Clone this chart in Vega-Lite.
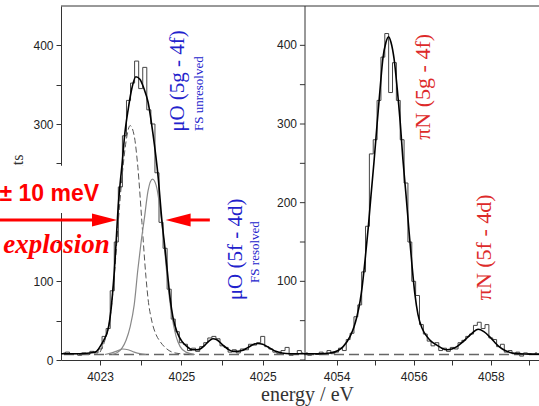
{
  "$schema": "https://vega.github.io/schema/vega-lite/v6.json",
  "width": 478,
  "height": 354,
  "autosize": {"type": "none"},
  "padding": {"left": 61, "top": 6, "right": 0, "bottom": 46},
  "background": "white",
  "config": {
    "view": {"stroke": null},
    "axis": {"domainColor": "#333", "tickColor": "#333", "labelFont": "Liberation Sans", "labelFontSize": 12, "labelColor": "#222", "grid": false}
  },
  "datasets": {
    "one": [{"k": 1}],
    "hist": [
      {"p":"L","x":4022.1,"y":9},{"p":"L","x":4022.2,"y":10},{"p":"L","x":4022.3,"y":7},{"p":"L","x":4022.4,"y":8},{"p":"L","x":4022.5,"y":6},{"p":"L","x":4022.6,"y":9},{"p":"L","x":4022.7,"y":7},{"p":"L","x":4022.8,"y":11},{"p":"L","x":4022.9,"y":9},{"p":"L","x":4023.0,"y":14},
      {"p":"L","x":4023.1,"y":30},{"p":"L","x":4023.2,"y":40},{"p":"L","x":4023.3,"y":88},{"p":"L","x":4023.4,"y":150},{"p":"L","x":4023.5,"y":220},{"p":"L","x":4023.6,"y":285},{"p":"L","x":4023.7,"y":330},{"p":"L","x":4023.8,"y":352},{"p":"L","x":4023.9,"y":380},{"p":"L","x":4024.0,"y":345},
      {"p":"L","x":4024.1,"y":372},{"p":"L","x":4024.2,"y":318},{"p":"L","x":4024.3,"y":300},{"p":"L","x":4024.4,"y":238},{"p":"L","x":4024.5,"y":175},{"p":"L","x":4024.6,"y":142},{"p":"L","x":4024.7,"y":90},{"p":"L","x":4024.8,"y":52},{"p":"L","x":4024.9,"y":36},{"p":"L","x":4025.0,"y":22},
      {"p":"L","x":4025.1,"y":20},{"p":"L","x":4025.2,"y":12},{"p":"L","x":4025.3,"y":15},{"p":"L","x":4025.4,"y":11},{"p":"L","x":4025.5,"y":17},{"p":"L","x":4025.6,"y":22},{"p":"L","x":4025.7,"y":28},{"p":"L","x":4025.8,"y":30},{"p":"L","x":4025.9,"y":27},{"p":"L","x":4026.0,"y":18},
      {"p":"L","x":4026.1,"y":16},{"p":"L","x":4026.2,"y":10},{"p":"L","x":4026.3,"y":13},{"p":"L","x":4026.4,"y":9},{"p":"L","x":4026.5,"y":14},{"p":"L","x":4026.6,"y":13},{"p":"L","x":4026.7,"y":20},{"p":"L","x":4026.8,"y":19},{"p":"L","x":4026.9,"y":22},{"p":"L","x":4027.0,"y":30},
      {"p":"L","x":4027.1,"y":17},{"p":"L","x":4027.2,"y":14},{"p":"L","x":4027.3,"y":10},{"p":"L","x":4027.4,"y":8},{"p":"L","x":4027.5,"y":12},{"p":"L","x":4027.6,"y":16},{"p":"L","x":4027.7,"y":6},{"p":"L","x":4027.8,"y":8},{"p":"L","x":4027.9,"y":12},{"p":"L","x":4028.0,"y":9},
      {"p":"R","x":4053.2,"y":9},{"p":"R","x":4053.3,"y":6},{"p":"R","x":4053.4,"y":8},{"p":"R","x":4053.5,"y":7},{"p":"R","x":4053.6,"y":10},{"p":"R","x":4053.7,"y":8},{"p":"R","x":4053.8,"y":12},{"p":"R","x":4053.9,"y":8},{"p":"R","x":4054.0,"y":10},{"p":"R","x":4054.1,"y":15},
      {"p":"R","x":4054.2,"y":12},{"p":"R","x":4054.3,"y":26},{"p":"R","x":4054.4,"y":34},{"p":"R","x":4054.5,"y":55},{"p":"R","x":4054.6,"y":70},{"p":"R","x":4054.7,"y":112},{"p":"R","x":4054.8,"y":170},{"p":"R","x":4054.9,"y":262},{"p":"R","x":4055.0,"y":280},{"p":"R","x":4055.1,"y":330},
      {"p":"R","x":4055.2,"y":385},{"p":"R","x":4055.3,"y":415},{"p":"R","x":4055.4,"y":340},{"p":"R","x":4055.5,"y":378},{"p":"R","x":4055.6,"y":330},{"p":"R","x":4055.7,"y":280},{"p":"R","x":4055.8,"y":225},{"p":"R","x":4055.9,"y":150},{"p":"R","x":4056.0,"y":100},{"p":"R","x":4056.1,"y":82},
      {"p":"R","x":4056.2,"y":45},{"p":"R","x":4056.3,"y":33},{"p":"R","x":4056.4,"y":24},{"p":"R","x":4056.5,"y":18},{"p":"R","x":4056.6,"y":22},{"p":"R","x":4056.7,"y":12},{"p":"R","x":4056.8,"y":15},{"p":"R","x":4056.9,"y":11},{"p":"R","x":4057.0,"y":16},{"p":"R","x":4057.1,"y":14},
      {"p":"R","x":4057.2,"y":22},{"p":"R","x":4057.3,"y":25},{"p":"R","x":4057.4,"y":30},{"p":"R","x":4057.5,"y":33},{"p":"R","x":4057.6,"y":44},{"p":"R","x":4057.7,"y":48},{"p":"R","x":4057.8,"y":40},{"p":"R","x":4057.9,"y":45},{"p":"R","x":4058.0,"y":28},{"p":"R","x":4058.1,"y":26},
      {"p":"R","x":4058.2,"y":17},{"p":"R","x":4058.3,"y":20},{"p":"R","x":4058.4,"y":10},{"p":"R","x":4058.5,"y":12},{"p":"R","x":4058.6,"y":8},{"p":"R","x":4058.7,"y":10},{"p":"R","x":4058.8,"y":5},{"p":"R","x":4058.9,"y":9},{"p":"R","x":4059.0,"y":8},{"p":"R","x":4059.1,"y":7},{"p":"R","x":4059.2,"y":9}
    ],
    "fit": [
      {"p":"L","x":4022.04,"y":8},{"p":"L","x":4022.5,"y":8},{"p":"L","x":4022.75,"y":9},{"p":"L","x":4022.88,"y":10},{"p":"L","x":4022.95,"y":13},{"p":"L","x":4023.0,"y":17},{"p":"L","x":4023.1,"y":26},{"p":"L","x":4023.17,"y":34},{"p":"L","x":4023.22,"y":45},{"p":"L","x":4023.27,"y":64},
      {"p":"L","x":4023.31,"y":86},{"p":"L","x":4023.35,"y":112},{"p":"L","x":4023.39,"y":145},{"p":"L","x":4023.44,"y":190},{"p":"L","x":4023.49,"y":222},{"p":"L","x":4023.54,"y":248},{"p":"L","x":4023.61,"y":288},{"p":"L","x":4023.69,"y":318},{"p":"L","x":4023.79,"y":347},{"p":"L","x":4023.88,"y":360},
      {"p":"L","x":4023.98,"y":357},{"p":"L","x":4024.08,"y":345},{"p":"L","x":4024.18,"y":328},{"p":"L","x":4024.3,"y":288},{"p":"L","x":4024.43,"y":232},{"p":"L","x":4024.52,"y":178},{"p":"L","x":4024.6,"y":140},{"p":"L","x":4024.66,"y":110},{"p":"L","x":4024.72,"y":80},{"p":"L","x":4024.79,"y":55},
      {"p":"L","x":4024.89,"y":36},{"p":"L","x":4025.01,"y":24},{"p":"L","x":4025.14,"y":17},{"p":"L","x":4025.26,"y":13},{"p":"L","x":4025.38,"y":13},{"p":"L","x":4025.46,"y":14},{"p":"L","x":4025.58,"y":19},{"p":"L","x":4025.7,"y":25},{"p":"L","x":4025.78,"y":27},{"p":"L","x":4025.86,"y":26},
      {"p":"L","x":4026.0,"y":20},{"p":"L","x":4026.14,"y":14},{"p":"L","x":4026.27,"y":11},{"p":"L","x":4026.39,"y":11},{"p":"L","x":4026.49,"y":12},{"p":"L","x":4026.64,"y":16},{"p":"L","x":4026.78,"y":20},{"p":"L","x":4026.88,"y":21},{"p":"L","x":4027.0,"y":20},{"p":"L","x":4027.18,"y":15},
      {"p":"L","x":4027.32,"y":11},{"p":"L","x":4027.47,"y":9},{"p":"L","x":4027.67,"y":8},{"p":"L","x":4028.04,"y":8},
      {"p":"R","x":4053.18,"y":8},{"p":"R","x":4053.57,"y":8},{"p":"R","x":4053.83,"y":9},{"p":"R","x":4054.04,"y":12},{"p":"R","x":4054.17,"y":17},{"p":"R","x":4054.35,"y":30},{"p":"R","x":4054.45,"y":42},{"p":"R","x":4054.53,"y":56},{"p":"R","x":4054.61,"y":75},{"p":"R","x":4054.66,"y":92},
      {"p":"R","x":4054.74,"y":128},{"p":"R","x":4054.82,"y":168},{"p":"R","x":4054.89,"y":208},{"p":"R","x":4054.97,"y":252},{"p":"R","x":4055.05,"y":300},{"p":"R","x":4055.13,"y":346},{"p":"R","x":4055.2,"y":383},{"p":"R","x":4055.28,"y":404},{"p":"R","x":4055.35,"y":411},{"p":"R","x":4055.41,"y":404},
      {"p":"R","x":4055.49,"y":383},{"p":"R","x":4055.57,"y":346},{"p":"R","x":4055.65,"y":302},{"p":"R","x":4055.72,"y":255},{"p":"R","x":4055.8,"y":210},{"p":"R","x":4055.88,"y":163},{"p":"R","x":4055.96,"y":118},{"p":"R","x":4056.03,"y":84},{"p":"R","x":4056.11,"y":58},{"p":"R","x":4056.22,"y":40},
      {"p":"R","x":4056.34,"y":30},{"p":"R","x":4056.47,"y":23},{"p":"R","x":4056.6,"y":19},{"p":"R","x":4056.73,"y":15},{"p":"R","x":4056.86,"y":13},{"p":"R","x":4056.99,"y":14},{"p":"R","x":4057.12,"y":17},{"p":"R","x":4057.25,"y":22},{"p":"R","x":4057.38,"y":28},{"p":"R","x":4057.51,"y":34},
      {"p":"R","x":4057.67,"y":39},{"p":"R","x":4057.82,"y":36},{"p":"R","x":4057.98,"y":29},{"p":"R","x":4058.11,"y":22},{"p":"R","x":4058.24,"y":16},{"p":"R","x":4058.37,"y":12},{"p":"R","x":4058.55,"y":9},{"p":"R","x":4058.75,"y":8},{"p":"R","x":4059.01,"y":7.5},{"p":"R","x":4059.25,"y":7.5}
    ],
    "comp": [
      {"c":"A","x":4023.0,"y":10},{"c":"A","x":4023.12,"y":25},{"c":"A","x":4023.25,"y":55},{"c":"A","x":4023.34,"y":100},{"c":"A","x":4023.44,"y":170},{"c":"A","x":4023.54,"y":232},{"c":"A","x":4023.64,"y":278},{"c":"A","x":4023.74,"y":298},{"c":"A","x":4023.84,"y":285},{"c":"A","x":4023.93,"y":245},
      {"c":"A","x":4024.03,"y":175},{"c":"A","x":4024.13,"y":105},{"c":"A","x":4024.18,"y":78},{"c":"A","x":4024.28,"y":48},{"c":"A","x":4024.38,"y":32},{"c":"A","x":4024.47,"y":24},{"c":"A","x":4024.62,"y":15},{"c":"A","x":4024.84,"y":9},{"c":"A","x":4025.21,"y":7},
      {"c":"B","x":4023.29,"y":7},{"c":"B","x":4023.44,"y":10},{"c":"B","x":4023.54,"y":15},{"c":"B","x":4023.64,"y":25},{"c":"B","x":4023.74,"y":42},{"c":"B","x":4023.84,"y":70},{"c":"B","x":4023.93,"y":115},{"c":"B","x":4024.01,"y":150},{"c":"B","x":4024.09,"y":180},{"c":"B","x":4024.18,"y":215},
      {"c":"B","x":4024.29,"y":230},{"c":"B","x":4024.38,"y":222},{"c":"B","x":4024.47,"y":195},{"c":"B","x":4024.57,"y":150},{"c":"B","x":4024.67,"y":95},{"c":"B","x":4024.77,"y":55},{"c":"B","x":4024.87,"y":30},{"c":"B","x":4024.97,"y":17},{"c":"B","x":4025.11,"y":10},{"c":"B","x":4025.33,"y":7},
      {"c":"C","x":4023.12,"y":7},{"c":"C","x":4023.29,"y":9},{"c":"C","x":4023.44,"y":12},{"c":"C","x":4023.56,"y":14},{"c":"C","x":4023.69,"y":13},{"c":"C","x":4023.84,"y":10},{"c":"C","x":4023.98,"y":8},{"c":"C","x":4024.13,"y":7}
    ],
    "rticks": [{"y":0},{"y":50},{"y":100},{"y":150},{"y":200},{"y":250},{"y":300},{"y":350},{"y":400}],
    "rlabels": [{"y":100},{"y":200},{"y":300},{"y":400}]
  },
  "layer": [
    {"data": {"name": "hist"},
     "mark": {"type": "line", "interpolate": "step", "color": "#444", "strokeWidth": 1},
     "encoding": {
       "x": {
         "field": "x", "type": "quantitative",
         "scale": {"domain": [4022.04, 4028.04, 4053.18, 4059.25], "range": [0, 244, 244, 478], "nice": false, "zero": false},
         "axis": {
           "values": [4023, 4024, 4025, 4026, 4027, 4054, 4055, 4056, 4057, 4058, 4059],
           "format": "d",
           "labelExpr": "datum.value == 4027 ? '4025' : (indexof([4023, 4025, 4054, 4056, 4058], datum.value) >= 0 ? datum.label : '')",
           "tickSize": 5, "labelPadding": 6,
           "title": "energy / eV", "titleFont": "Liberation Serif", "titleFontSize": 20, "titleFontWeight": "normal", "titleColor": "#333",
           "titleX": 246, "titlePadding": 2
         }
       },
       "y": {
         "field": "y", "type": "quantitative",
         "scale": {"domain": [0, 450], "nice": false},
         "axis": {
           "values": [0, 50, 100, 150, 200, 250, 300, 350, 400],
           "labelExpr": "datum.value % 100 == 0 && datum.value != 200 ? datum.label : ''",
           "tickSize": 5, "labelPadding": 3,
           "title": "counts", "titleFont": "Liberation Serif", "titleFontSize": 16, "titleFontWeight": "normal", "titleColor": "#333",
           "titleY": 169, "titlePadding": 7
         }
       },
       "detail": {"field": "p"}
     }},
    {"data": {"name": "one"},
     "mark": {"type": "rect", "fill": "white"},
     "encoding": {"x": {"datum": 4020.5}, "x2": {"datum": 4023.29}, "y": {"datum": 187}, "y2": {"datum": 247}}},
    {"data": {"name": "one"},
     "mark": {"type": "rule", "color": "#666", "strokeWidth": 1.5, "strokeDash": [10, 5]},
     "encoding": {"y": {"datum": 7}}},
    {"data": {"name": "one"},
     "mark": {"type": "rule", "color": "#333", "strokeWidth": 1},
     "encoding": {"y": {"datum": 450}}},
    {"data": {"name": "one"},
     "mark": {"type": "rule", "color": "#333", "strokeWidth": 1},
     "encoding": {"x": {"datum": 4028.04}}},
    {"data": {"name": "rticks"},
     "mark": {"type": "rule", "color": "#333", "strokeWidth": 1},
     "encoding": {"x": {"datum": 4027.915}, "x2": {"datum": 4028.04}, "y": {"field": "y", "type": "quantitative", "title": "counts"}}},
    {"data": {"name": "rlabels"},
     "mark": {"type": "text", "align": "right", "baseline": "middle", "dx": -8, "font": "Liberation Sans", "fontSize": 12, "color": "#222"},
     "encoding": {"x": {"datum": 4028.04}, "y": {"field": "y", "type": "quantitative", "title": "counts"}, "text": {"field": "y", "type": "quantitative"}}},
    {"data": {"name": "comp"},
     "transform": [{"filter": "datum.c == 'A'"}],
     "mark": {"type": "line", "interpolate": "monotone", "color": "#555", "strokeWidth": 1, "strokeDash": [6, 3]},
     "encoding": {"x": {"field": "x", "type": "quantitative", "title": "energy / eV"}, "y": {"field": "y", "type": "quantitative", "title": "counts"}}},
    {"data": {"name": "comp"},
     "transform": [{"filter": "datum.c != 'A'"}],
     "mark": {"type": "line", "interpolate": "monotone", "color": "#888", "strokeWidth": 1.2},
     "encoding": {"x": {"field": "x", "type": "quantitative", "title": "energy / eV"}, "y": {"field": "y", "type": "quantitative", "title": "counts"}, "detail": {"field": "c"}}},
    {"data": {"name": "fit"},
     "mark": {"type": "line", "interpolate": "monotone", "color": "#000", "strokeWidth": 1.6},
     "encoding": {"x": {"field": "x", "type": "quantitative", "title": "energy / eV"}, "y": {"field": "y", "type": "quantitative", "title": "counts"}, "detail": {"field": "p"}}},
    {"data": {"name": "one"},
     "mark": {"type": "text", "text": "± 10 meV", "align": "right", "baseline": "alphabetic", "font": "Liberation Sans", "fontWeight": "bold", "fontSize": 23, "color": "#ff0000"},
     "encoding": {"x": {"datum": 4022.975}, "y": {"datum": 202}}},
    {"data": {"name": "one"},
     "mark": {"type": "text", "text": "explosion", "align": "left", "baseline": "alphabetic", "font": "Liberation Serif", "fontStyle": "italic", "fontWeight": "bold", "fontSize": 27, "color": "#ff0000"},
     "encoding": {"x": {"datum": 4020.62}, "y": {"datum": 136}}},
    {"data": {"name": "one"},
     "mark": {"type": "rule", "color": "#ff0000", "strokeWidth": 3},
     "encoding": {"x": {"datum": 4020.5}, "x2": {"datum": 4023.11}, "y": {"datum": 178}}},
    {"data": {"name": "one"},
     "mark": {"type": "rule", "color": "#ff0000", "strokeWidth": 3},
     "encoding": {"x": {"datum": 4024.92}, "x2": {"datum": 4025.7}, "y": {"datum": 178}}},
    {"data": {"name": "one"},
     "mark": {"type": "point", "shape": "M-1,-0.52L1,0L-1,0.52Z", "size": 625, "filled": true, "color": "#ff0000", "opacity": 1, "strokeWidth": 0},
     "encoding": {"x": {"datum": 4023.11}, "y": {"datum": 178}}},
    {"data": {"name": "one"},
     "mark": {"type": "point", "shape": "M1,-0.52L-1,0L1,0.52Z", "size": 625, "filled": true, "color": "#ff0000", "opacity": 1, "strokeWidth": 0},
     "encoding": {"x": {"datum": 4024.92}, "y": {"datum": 178}}},
    {"data": {"name": "one"},
     "mark": {"type": "text", "text": "μO (5g - 4f)", "angle": 270, "align": "left", "baseline": "middle", "font": "Liberation Serif", "fontSize": 21, "color": "#2222cc"},
     "encoding": {"x": {"datum": 4024.92}, "y": {"datum": 290}}},
    {"data": {"name": "one"},
     "mark": {"type": "text", "text": "FS unresolved", "angle": 270, "align": "left", "baseline": "middle", "font": "Liberation Serif", "fontSize": 13, "color": "#2222cc"},
     "encoding": {"x": {"datum": 4025.43}, "y": {"datum": 291}}},
    {"data": {"name": "one"},
     "mark": {"type": "text", "text": "μO (5f - 4d)", "angle": 270, "align": "left", "baseline": "middle", "font": "Liberation Serif", "fontSize": 21, "color": "#2222cc"},
     "encoding": {"x": {"datum": 4026.34}, "y": {"datum": 76}}},
    {"data": {"name": "one"},
     "mark": {"type": "text", "text": "FS resolved", "angle": 270, "align": "left", "baseline": "middle", "font": "Liberation Serif", "fontSize": 13, "color": "#2222cc"},
     "encoding": {"x": {"datum": 4026.81}, "y": {"datum": 98}}},
    {"data": {"name": "one"},
     "mark": {"type": "text", "text": "πN (5g - 4f)", "angle": 270, "align": "left", "baseline": "middle", "font": "Liberation Serif", "fontSize": 22, "color": "#dd2a2a"},
     "encoding": {"x": {"datum": 4056.24}, "y": {"datum": 280}}},
    {"data": {"name": "one"},
     "mark": {"type": "text", "text": "πN (5f - 4d)", "angle": 270, "align": "left", "baseline": "middle", "font": "Liberation Serif", "fontSize": 22, "color": "#dd2a2a"},
     "encoding": {"x": {"datum": 4057.82}, "y": {"datum": 76}}}
  ]
}
